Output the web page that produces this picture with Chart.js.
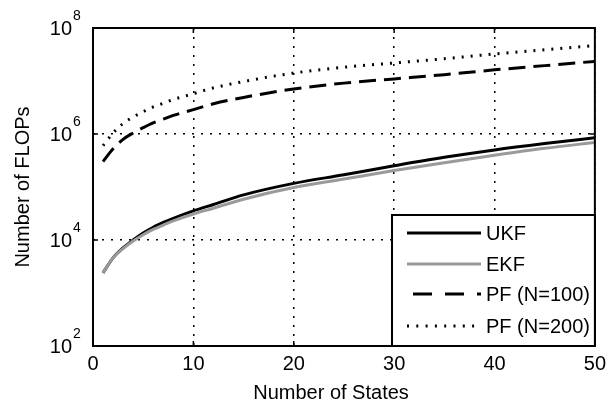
<!DOCTYPE html>
<html><head><meta charset="utf-8">
<script src="https://cdn.jsdelivr.net/npm/chart.js@4/dist/chart.umd.min.js"></script>
<style>html,body{margin:0;padding:0;background:#fff}#wrap{width:612px;height:410px;position:relative}</style>
</head><body><div id="wrap"><canvas id="c" width="612" height="410"></canvas></div>
<script>
// ---- data ----
const states = [1, 2, 3, 4, 5, 6, 7, 8, 10, 12, 15, 20, 25, 30, 35, 40, 45, 50];
const ukfFlops = [2400, 4600, 7100, 10000, 13500, 17400, 21400, 25700, 35500, 46800, 71000, 117000, 170000, 251000, 363000, 501000, 661000, 851000];
const ekfFlops = [2400, 4600, 6900, 9550, 12600, 15800, 19100, 22900, 30900, 39800, 58900, 97700, 141000, 204000, 288000, 398000, 537000, 692000];
const pf100Flops = [302000, 525000, 794000, 1047000, 1318000, 1622000, 1905000, 2239000, 2884000, 3715000, 4898000, 7079000, 9120000, 10960000, 13180000, 16220000, 19500000, 23440000];
const pf200Flops = [603000, 1047000, 1585000, 2089000, 2630000, 3236000, 3802000, 4467000, 5754000, 7413000, 9772000, 14130000, 18200000, 21880000, 26300000, 32360000, 38900000, 46770000];
const seriesLabels = ['UKF', 'EKF', 'PF (N=100)', 'PF (N=200)'];
const xTickValues = [0, 10, 20, 30, 40, 50];
const yTickValues = [1e2, 1e4, 1e6, 1e8];
const yTickBase = '10';
const yTickExponents = ['2', '4', '6', '8'];
const xTitle = 'Number of States';
const yTitle = 'Number of FLOPs';

const FONT = "'Liberation Sans', Arial, Helvetica, sans-serif";
const font = {family: FONT, size: 20};
const pts = arr => states.map((s, i) => ({x: s, y: arr[i]}));

const framePlugin = {
  id: 'frameAndLegend',
  afterDatasetsDraw(chart) {
    const {ctx, chartArea: a, scales: {x, y}} = chart;
    ctx.save();
    ctx.setLineDash([]);
    ctx.strokeStyle = '#000';
    // inner tick marks
    ctx.lineWidth = 1.5;
    const seg = (x1, y1, x2, y2) => { ctx.beginPath(); ctx.moveTo(x1, y1); ctx.lineTo(x2, y2); ctx.stroke(); };
    x.ticks.forEach(t => { const p = x.getPixelForValue(t.value); seg(p, a.bottom, p, a.bottom - 5); seg(p, a.top, p, a.top + 5); });
    y.ticks.forEach(t => { const p = y.getPixelForValue(t.value); seg(a.left, p, a.left + 5, p); seg(a.right, p, a.right - 5, p); });
    // frame
    ctx.lineWidth = 2;
    ctx.strokeRect(a.left, a.top, a.right - a.left, a.bottom - a.top);
    ctx.fillStyle = '#000';
    // y tick labels: 10 with superscript exponent, placed from the log scale
    yTickValues.forEach((v, i) => {
      const p = y.getPixelForValue(v);
      ctx.font = `20px ${FONT}`;
      ctx.textAlign = 'right';
      ctx.textBaseline = 'middle';
      ctx.fillText(yTickBase, 72, p + 1);
      ctx.font = `14px ${FONT}`;
      ctx.textAlign = 'left';
      ctx.textBaseline = 'alphabetic';
      ctx.fillText(yTickExponents[i], 73, p - 8);
    });
    // x axis title
    ctx.font = `20px ${FONT}`;
    ctx.textAlign = 'center';
    ctx.textBaseline = 'middle';
    ctx.fillText(xTitle, 331, 393);
    // legend box (inside chart area, lower right)
    const lx = 392, ly = 215, lw = a.right - 392, lh = a.bottom - 215;
    ctx.fillStyle = '#fff';
    ctx.fillRect(lx, ly, lw, lh);
    ctx.lineWidth = 2;
    ctx.strokeRect(lx, ly, lw, lh);
    const rowsY = [233, 264, 294, 326];
    chart.data.datasets.forEach((ds, i) => {
      const yy = rowsY[i];
      ctx.save();
      ctx.strokeStyle = ds.borderColor;
      ctx.lineWidth = ds.borderWidth;
      ctx.setLineDash(ds.legendDash || []);
      ctx.beginPath(); ctx.moveTo(407, yy); ctx.lineTo(481, yy); ctx.stroke();
      ctx.restore();
      ctx.fillStyle = '#000';
      ctx.font = `20px ${FONT}`;
      ctx.textBaseline = 'middle';
      ctx.textAlign = 'left';
      ctx.fillText(ds.label, 486, yy + 1);
    });
    ctx.restore();
  }
};

new Chart(document.getElementById('c'), {
  type: 'line',
  data: {
    datasets: [
      {label: seriesLabels[0], data: pts(ukfFlops), borderColor: '#000', borderWidth: 3, order: 2},
      {label: seriesLabels[1], data: pts(ekfFlops), borderColor: '#9a9a9a', borderWidth: 3, order: 1},
      {label: seriesLabels[2], data: pts(pf100Flops), borderColor: '#000', borderWidth: 3, borderDash: [17, 8], legendDash: [0, 6, 19, 7], order: 3},
      {label: seriesLabels[3], data: pts(pf200Flops), borderColor: '#000', borderWidth: 3, borderDash: [2, 7], legendDash: [2, 7.3], order: 4}
    ]
  },
  options: {
    responsive: false,
    animation: false,
    devicePixelRatio: 1,
    layout: {padding: {top: 28, right: 13, left: 0, bottom: 0}},
    plugins: {legend: {display: false}, tooltip: {enabled: false}},
    elements: {point: {radius: 0}, line: {cubicInterpolationMode: 'monotone', borderCapStyle: 'butt'}},
    scales: {
      x: {
        type: 'linear', min: 0, max: 50,
        afterBuildTicks(s) { s.ticks = xTickValues.map(v => ({value: v})); },
        ticks: {color: '#000', font, padding: 6, maxRotation: 0},
        grid: {color: '#000', lineWidth: 1.5, drawTicks: false},
        border: {display: false, dash: [2, 7]},
        title: {display: false},
        afterFit(s) { s.height = 64; }
      },
      y: {
        type: 'logarithmic', min: 1e2, max: 1e8,
        afterBuildTicks(s) { s.ticks = yTickValues.map(v => ({value: v})); },
        ticks: {display: false},
        grid: {color: '#000', lineWidth: 1.5, drawTicks: false},
        border: {display: false, dash: [2, 7]},
        title: {display: true, text: yTitle, color: '#000', font, padding: {top: 11, bottom: 0}},
        afterFit(s) { s.width = 93; }
      }
    }
  },
  plugins: [framePlugin]
});
</script>
</body></html>
